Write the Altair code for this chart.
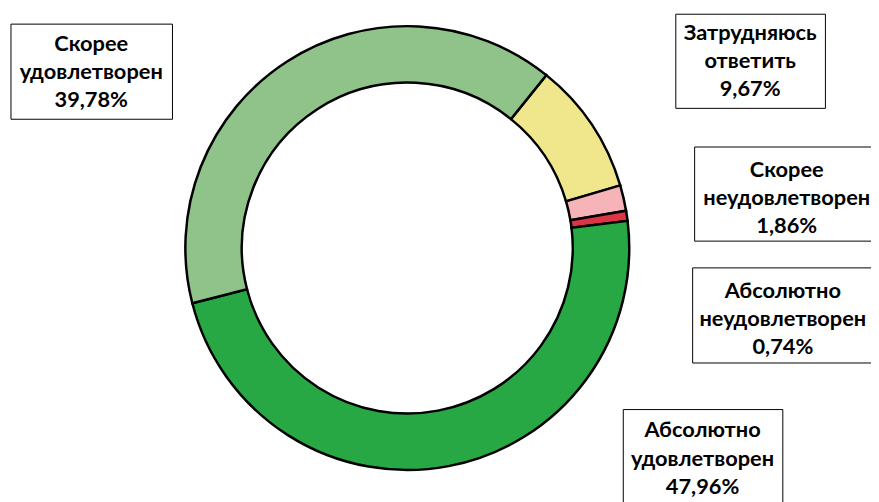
import math
import altair as alt
import pandas as pd

# ---- data ----
categories = ["Затрудняюсь ответить", "Скорее неудовлетворен", "Абсолютно неудовлетворен",
              "Абсолютно удовлетворен", "Скорее удовлетворен"]
label_lines = [["Затрудняюсь", "ответить"], ["Скорее", "неудовлетворен"],
               ["Абсолютно", "неудовлетворен"], ["Абсолютно", "удовлетворен"],
               ["Скорее", "удовлетворен"]]
values = [9.67, 1.86, 0.74, 47.96, 39.78]

# ---- styles / layout ----
colors = ["#F0E68C", "#F6B3B8", "#DC3545", "#28A745", "#8FC389"]
start = math.radians(38.8)
cx, cy = 403, 240
# box: x, x2, y, y2, text x, text y (first line)
boxes = [
    (674, 825, 4, 99, 749, 23),
    (693, 875, 138, 233, 786, 161),
    (691, 875, 260, 356, 782, 283),
    (621, 782, 403, 505, 701, 424),
    (3, 166, 14, 110, 84, 34),
]
FONT = "Lato"

df = pd.DataFrame({"category": categories, "value": values, "order": list(range(len(values)))})

donut = alt.Chart(df).mark_arc(innerRadius=167, outerRadius=224, stroke="black", strokeWidth=2.5).encode(
    theta=alt.Theta("value:Q", stack=True,
                    scale=alt.Scale(range=[start, start + 2 * math.pi])),
    color=alt.Color("category:N", scale=alt.Scale(domain=categories, range=colors), legend=None),
    order=alt.Order("order:Q"),
    x=alt.value(cx), y=alt.value(cy),
)

layers = [donut]
for i, (x1, x2, y1, y2, tx, ty) in enumerate(boxes):
    pct = f"{values[i]:.2f}".replace(".", ",") + "%"
    text = "\n".join(label_lines[i] + [pct])
    lab = pd.DataFrame({"label": [text]})
    rect = alt.Chart(lab).mark_rect(fill="white", stroke="black", strokeWidth=1).encode(
        x=alt.value(x1), x2=alt.value(x2), y=alt.value(y1), y2=alt.value(y2))
    txt = alt.Chart(lab).mark_text(font=FONT, fontSize=22, fontWeight="bold", color="black",
                                   lineBreak="\n", lineHeight=28.5, align="center",
                                   baseline="middle").encode(
        x=alt.value(tx), y=alt.value(ty), text="label:N")
    layers += [rect, txt]

chart = alt.layer(*layers).properties(
    width=871, height=494, padding=0, autosize=alt.AutoSizeParams(type="none"),
    background="white",
).configure_view(stroke=None)

chart.save("out.html", embed_options={"renderer": "svg", "actions": False})
